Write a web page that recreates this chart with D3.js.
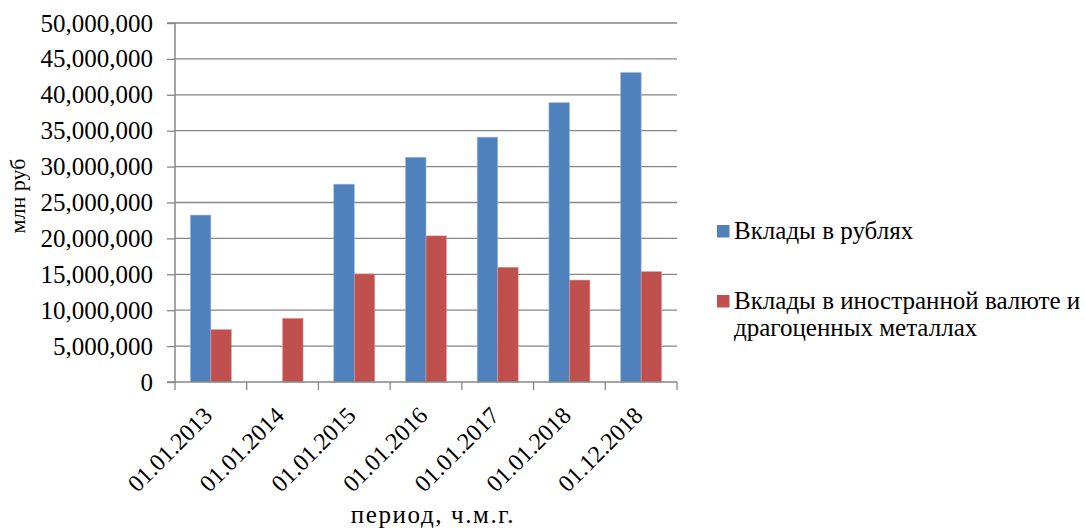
<!DOCTYPE html>
<html>
<head>
<meta charset="utf-8">
<script src="https://cdn.jsdelivr.net/npm/d3@7/dist/d3.min.js"></script>
<style>
  html, body { margin: 0; padding: 0; background: #fff; }
  svg { display: block; }
  text { font-family: "Liberation Serif", "Times New Roman", serif; fill: #000; }
</style>
</head>
<body>
<svg id="chart" width="1085" height="532"></svg>
<script>
// Deposits by date, млн руб
const categories = ["01.01.2013", "01.01.2014", "01.01.2015", "01.01.2016", "01.01.2017", "01.01.2018", "01.12.2018"];
const rubDeposits = [23250000, 0, 27550000, 31300000, 34100000, 38900000, 43100000];
const fxDeposits = [7300000, 8870000, 15050000, 20350000, 15980000, 14200000, 15370000];
const seriesNames = ["Вклады в рублях", "Вклады в иностранной валюте и\nдрагоценных металлах"];
const yTicks = [0, 5000000, 10000000, 15000000, 20000000, 25000000, 30000000, 35000000, 40000000, 45000000, 50000000];
const yTitle = "млн руб";
const xTitle = "период, ч.м.г.";

const colors = ["#4F81BD", "#C0504D"];
const gridColor = "#868686";
const serif = '"Liberation Serif", "Times New Roman", serif';

const svg = d3.select("#chart");
const plotLeft = 175, plotRight = 677, plotTop = 23, plotBottom = 382;

const x = d3.scaleBand().domain(categories).range([plotLeft, plotRight]).paddingInner(0).paddingOuter(0);
const bandW = x.bandwidth();
const barW = bandW / 3.5; // gap width 150%
const gapW = (bandW - 2 * barW) / 2;

const y = d3.scaleLinear().domain([0, 50000000]).range([plotBottom, plotTop]);

// gridlines
svg.append("g")
  .selectAll("line")
  .data(yTicks.filter(d => d > 0))
  .join("line")
  .attr("x1", plotLeft).attr("x2", plotRight)
  .attr("y1", d => y(d)).attr("y2", d => y(d))
  .attr("stroke", gridColor).attr("stroke-width", 1.3);

// y axis
const fmt = d3.format(",");
const yAxis = d3.axisLeft(y).tickValues(yTicks).tickSize(8).tickPadding(14).tickFormat(d => d === 0 ? "0" : fmt(d));
const gy = svg.append("g").attr("transform", `translate(${plotLeft},0)`).call(yAxis);
gy.select(".domain").attr("stroke", gridColor).attr("stroke-width", 1.5).attr("d", `M-8,${plotTop}H0V${plotBottom}H-8`);
gy.selectAll(".tick line").attr("stroke", gridColor).attr("stroke-width", 1.3);
gy.selectAll(".tick text").attr("font-size", 25).style("font-family", serif).attr("fill", "#000");

// bars
const series = [rubDeposits, fxDeposits];
series.forEach((vals, si) => {
  svg.append("g")
    .selectAll("rect")
    .data(vals.map((v, i) => ({ cat: categories[i], v })).filter(d => d.v > 0))
    .join("rect")
    .attr("x", d => x(d.cat) + gapW + si * barW)
    .attr("y", d => y(d.v))
    .attr("width", barW)
    .attr("height", d => plotBottom - y(d.v))
    .attr("fill", colors[si])
    .attr("stroke", si === 0 ? "#9DB6DA" : "#DC9C9A")
    .attr("stroke-width", 0.6);
});

// x axis
const gx = svg.append("g").attr("transform", `translate(0,${plotBottom})`);
gx.append("line").attr("x1", plotLeft).attr("x2", plotRight).attr("y1", 0).attr("y2", 0)
  .attr("stroke", gridColor).attr("stroke-width", 1.5);
const boundaries = categories.map(c => x(c)).concat([plotRight]);
gx.selectAll("line.tk").data(boundaries).join("line").attr("class", "tk")
  .attr("x1", d => d).attr("x2", d => d).attr("y1", 0).attr("y2", 8)
  .attr("stroke", gridColor).attr("stroke-width", 1.3);
gx.selectAll("text").data(categories).join("text")
  .attr("transform", d => `translate(${x(d) + bandW / 2 + 3},${35}) rotate(-45)`)
  .attr("text-anchor", "end")
  .attr("font-size", 24)
  .style("font-family", serif)
  .text(d => d);

// axis titles
svg.append("text")
  .attr("transform", `translate(25,196) rotate(-90)`)
  .attr("text-anchor", "middle")
  .attr("font-size", 22)
  .style("font-family", serif)
  .text(yTitle);
svg.append("text")
  .attr("x", 433).attr("y", 523)
  .attr("text-anchor", "middle")
  .attr("font-size", 25)
  .attr("letter-spacing", 1.6)
  .style("font-family", serif)
  .text(xTitle);

// legend
const legendY = [225, 295];
seriesNames.forEach((name, i) => {
  const g = svg.append("g");
  g.append("rect").attr("x", 717).attr("y", legendY[i]).attr("width", 12.5).attr("height", 12.5).attr("fill", colors[i]);
  const t = g.append("text").attr("x", 734).attr("y", legendY[i] + 14).attr("font-size", 25).style("font-family", serif);
  name.split("\n").forEach((line, j) => {
    t.append("tspan").attr("x", 734).attr("dy", j === 0 ? 0 : 27).text(line);
  });
});
</script>
</body>
</html>
